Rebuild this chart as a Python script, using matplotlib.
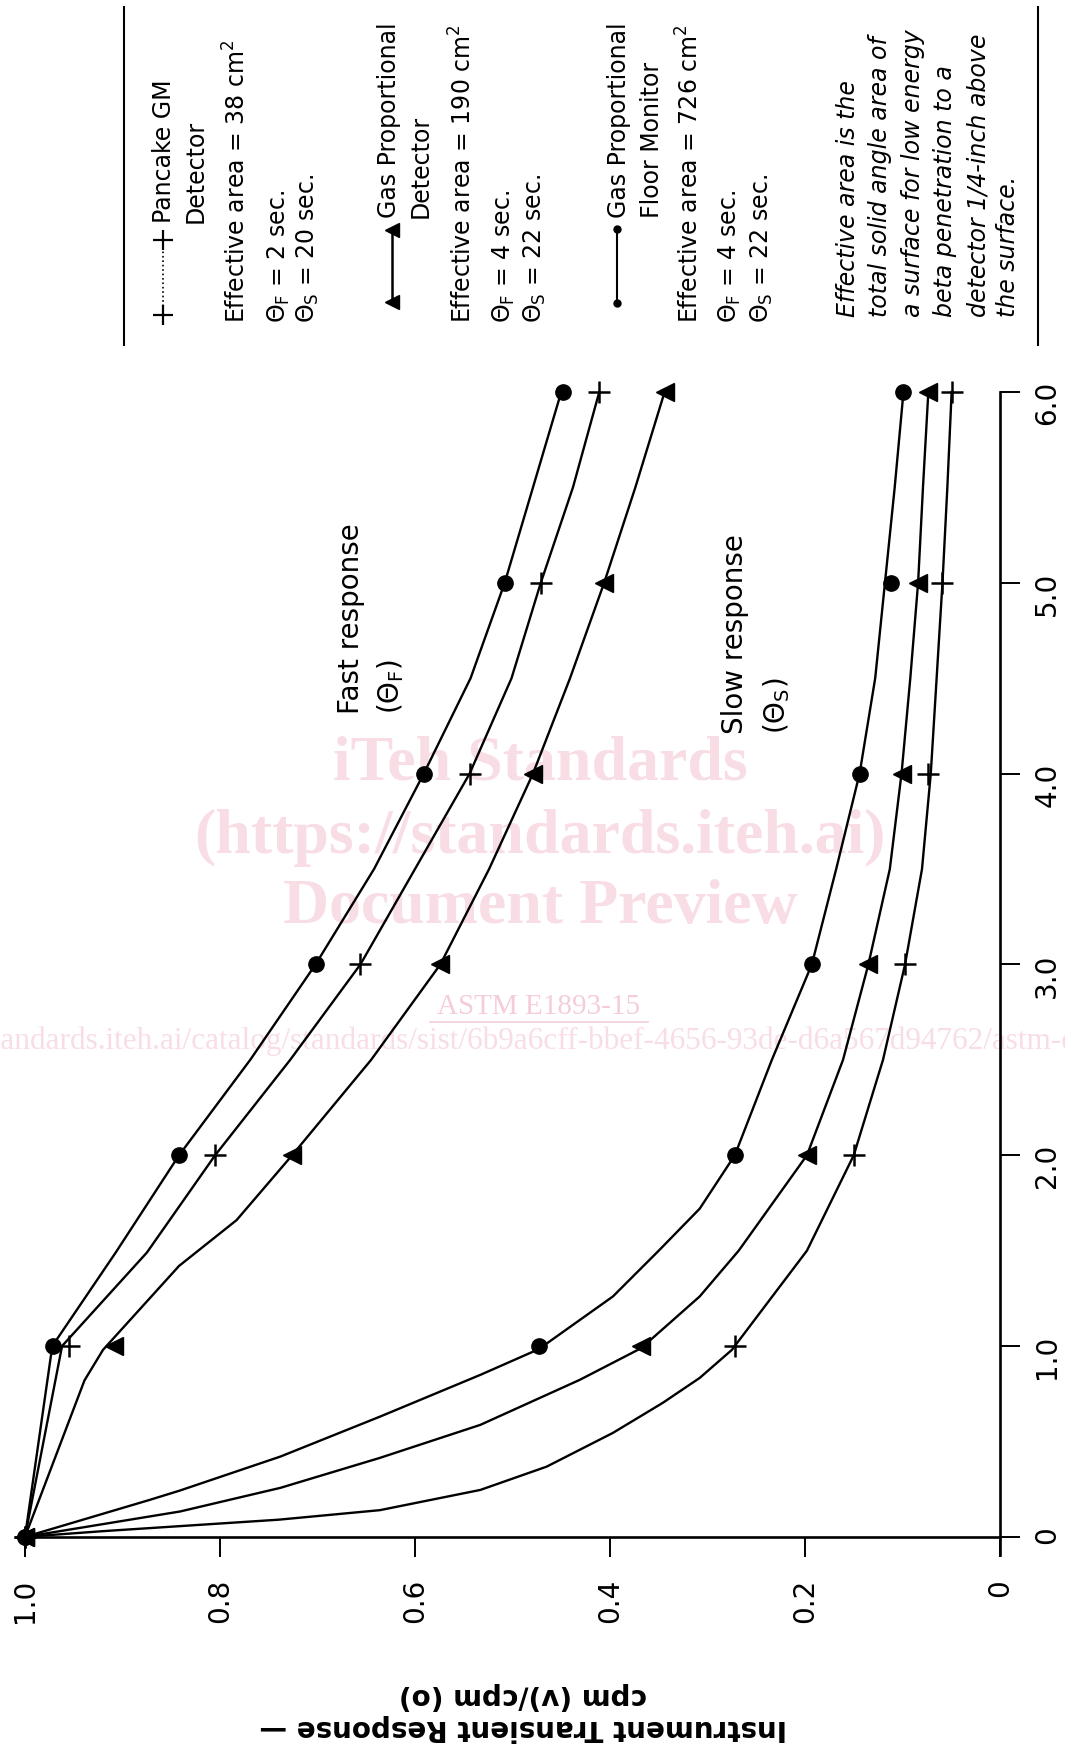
import matplotlib
matplotlib.use('Agg')
import matplotlib.pyplot as plt
from matplotlib.lines import Line2D

W, H = 1065, 1753

# marked points, time in seconds
marker_t = [0, 1, 2, 3, 4, 5, 6]

# fast response (theta F), cpm(v)/cpm(o)
fast_floor = [1.0, 0.971, 0.842, 0.702, 0.591, 0.508, 0.448]
fast_pancake = [1.0, 0.955, 0.805, 0.656, 0.544, 0.471, 0.411]
fast_gasprop = [1.0, 0.909, 0.726, 0.574, 0.479, 0.406, 0.344]

# slow response (theta S)
slow_floor = [1.0, 0.473, 0.272, 0.193, 0.144, 0.112, 0.099]
slow_gasprop = [1.0, 0.368, 0.198, 0.135, 0.101, 0.084, 0.0735]
slow_pancake = [1.0, 0.272, 0.150, 0.097, 0.0735, 0.059, 0.0496]

# traced curves (time, response)
fast_floor_ct = [0, 1.0, 1.49, 2.0, 2.5, 3.0, 3.5, 4.0, 4.5, 5.0, 5.5, 6.0]
fast_floor_cr = [1.0, 0.972, 0.907, 0.842, 0.769, 0.702, 0.642, 0.591, 0.543, 0.508, 0.479, 0.450]

fast_pancake_ct = [0, 1.0, 1.49, 2.0, 2.5, 3.0, 3.5, 4.0, 4.5, 5.0, 5.5, 6.0]
fast_pancake_cr = [1.0, 0.962, 0.875, 0.805, 0.728, 0.656, 0.600, 0.544, 0.501, 0.471, 0.438, 0.411]

fast_gasprop_ct = [0, 0.82, 0.98, 1.42, 1.66, 2.0, 2.5, 3.0, 3.5, 4.0, 4.5, 5.0, 5.5, 6.0]
fast_gasprop_cr = [1.0, 0.939, 0.920, 0.842, 0.783, 0.726, 0.645, 0.574, 0.524, 0.479, 0.441, 0.406, 0.374, 0.344]

slow_floor_ct = [0, 0.194, 0.243, 0.421, 0.63, 0.849, 0.984, 1.26, 1.5, 1.72, 2.0, 2.5, 3.0,
                 3.5, 4.0, 4.5, 5.0, 5.5, 6.0]
slow_floor_cr = [1.0, 0.872, 0.841, 0.738, 0.636, 0.533, 0.473, 0.397, 0.350, 0.308, 0.272, 0.234, 0.193,
                 0.168, 0.144, 0.128, 0.118, 0.108, 0.099]

slow_gasprop_ct = [0, 0.133, 0.257, 0.414, 0.587, 0.823, 0.989, 1.26, 1.5, 2.0, 2.5, 3.0,
                   3.5, 4.0, 4.5, 5.0, 5.5, 6.0]
slow_gasprop_cr = [1.0, 0.841, 0.738, 0.636, 0.533, 0.431, 0.368, 0.308, 0.268, 0.198, 0.161, 0.135,
                   0.113, 0.101, 0.092, 0.084, 0.079, 0.0735]

slow_pancake_ct = [0, 0.03, 0.06, 0.09, 0.14, 0.246, 0.368, 0.545, 0.702, 0.833, 0.98, 1.5, 2.0,
                   2.5, 3.0, 3.5, 4.0, 4.5, 5.0, 5.5, 6.0]
slow_pancake_cr = [1.0, 0.92, 0.83, 0.74, 0.636, 0.533, 0.465, 0.397, 0.346, 0.308, 0.275, 0.198, 0.150,
                   0.120, 0.0974, 0.080, 0.071, 0.065, 0.059, 0.054, 0.0496]

x_ticks = [1.0, 0.8, 0.6, 0.4, 0.2, 0.0]
x_ticklabels = ['1.0', '0.8', '0.6', '0.4', '0.2', '0']
y_ticks = [0, 1, 2, 3, 4, 5, 6]
y_ticklabels = ['0', '1.0', '2.0', '3.0', '4.0', '5.0', '6.0']

plt.rcParams['font.family'] = ['DejaVu Sans']
plt.rcParams['mathtext.fontset'] = 'dejavusans'


def fx(x):
    return x / W


def fy(y):
    return 1 - y / H


fig = plt.figure(figsize=(W / 100, H / 100), dpi=100)
ax = fig.add_axes([fx(25), fy(1555), 975 / W, (1555 - 392) / H])
ax.patch.set_visible(False)
ax.set_xlim(1.0, 0.0)
ax.set_ylim(-0.095, 6.0)

for s in ['left', 'top']:
    ax.spines[s].set_visible(False)
ax.spines['bottom'].set_position(('data', 0))
ax.spines['bottom'].set_linewidth(1.9)
ax.spines['right'].set_linewidth(1.9)
ax.yaxis.tick_right()

ax.set_xticks(x_ticks)
ax.set_xticklabels(x_ticklabels)
ax.set_yticks(y_ticks)
ax.set_yticklabels(y_ticklabels)
ax.tick_params(axis='x', direction='out', length=14.4, width=1.4, pad=16,
               labelrotation=90, labelsize=20)
ax.tick_params(axis='y', direction='out', length=14.4, width=1.4, pad=9.5,
               labelrotation=90, labelsize=20)

# curves
curves = [(fast_floor_cr, fast_floor_ct), (fast_pancake_cr, fast_pancake_ct),
          (fast_gasprop_cr, fast_gasprop_ct), (slow_floor_cr, slow_floor_ct),
          (slow_gasprop_cr, slow_gasprop_ct), (slow_pancake_cr, slow_pancake_ct)]
for cr, ct in curves:
    ax.plot(cr, ct, color='black', lw=1.7, solid_joinstyle='round', clip_on=False, zorder=3)

# markers
for vals in [fast_floor, slow_floor]:
    ax.plot(vals, marker_t, 'o', ms=11, color='black', clip_on=False, zorder=4)
for vals in [fast_gasprop, slow_gasprop]:
    ax.plot(vals, marker_t, '<', ms=13, color='black', clip_on=False, zorder=4)
for vals in [fast_pancake, slow_pancake]:
    ax.plot(vals, marker_t, '+', ms=16, mew=1.8, color='black', clip_on=False, zorder=4)


def vtext(x, y, s, size=17, style='normal'):
    fig.text(fx(x), fy(y), s, rotation=90, rotation_mode='anchor', ha='left',
             va='center', fontsize=size, style=style, color='black')


# curve group labels
vtext(351, 714, 'Fast response', size=20)
vtext(391, 714, r'($\Theta_\mathrm{F}$)', size=20)
vtext(735, 734, 'Slow response', size=20)
vtext(777, 734, r'($\Theta_\mathrm{S}$)', size=20)

# legend rules
for xr in [124, 1038]:
    fig.add_artist(Line2D([fx(xr), fx(xr)], [fy(7), fy(345)], lw=1.5, color='black',
                          transform=fig.transFigure))

# legend symbols
fig.add_artist(Line2D([fx(163), fx(163)], [fy(315), fy(240)], ls=':', lw=1.2, marker='+',
                      ms=14, mew=1.6, color='black', transform=fig.transFigure))
fig.add_artist(Line2D([fx(392), fx(392)], [fy(302), fy(230)], ls='-', lw=1.8, marker='<',
                      ms=10, color='black', transform=fig.transFigure))
fig.add_artist(Line2D([fx(617), fx(617)], [fy(303), fy(229)], ls='-', lw=1.5, marker='o',
                      ms=5, color='black', transform=fig.transFigure))

vtext(164, 223, 'Pancake GM')
vtext(196, 223, 'Detector')
vtext(237, 323, r'Effective area = 38 cm$^2$')
vtext(279, 323, r'$\Theta_\mathrm{F}$ = 2 sec.')
vtext(308, 323, r'$\Theta_\mathrm{S}$ = 20 sec.')

vtext(389, 218, 'Gas Proportional')
vtext(421, 218, 'Detector')
vtext(463, 323, r'Effective area = 190 cm$^2$')
vtext(504, 323, r'$\Theta_\mathrm{F}$ = 4 sec.')
vtext(535, 323, r'$\Theta_\mathrm{S}$ = 22 sec.')

vtext(619, 218, 'Gas Proportional')
vtext(652, 218, 'Floor Monitor')
vtext(690, 323, r'Effective area = 726 cm$^2$')
vtext(730, 323, r'$\Theta_\mathrm{F}$ = 4 sec.')
vtext(762, 323, r'$\Theta_\mathrm{S}$ = 22 sec.')

note = ['Effective area is the', 'total solid angle area of', 'a surface for low energy',
        'beta penetration to a', 'detector 1/4-inch above', 'the surface.']
for xn, line in zip([848, 880, 913, 945, 978, 1008], note):
    vtext(xn, 317, line, style='italic')

# axis title (upside down)
fig.text(fx(523), fy(1712), 'Instrument Transient Response \u2014\ncpm (v)/cpm (o)',
         rotation=180, rotation_mode='anchor', ha='center', va='center',
         multialignment='center', fontsize=20, fontweight='bold', linespacing=1.18)

# watermark
wm = '#f8dde5'
for yw, s in [(765, 'iTeh Standards'), (838, '(https://standards.iteh.ai)'),
              (908, 'Document Preview')]:
    fig.text(fx(540), fy(yw), s, ha='center', va='center', fontsize=46, fontweight='bold',
             family='Liberation Serif', color=wm, zorder=-1)
fig.text(fx(539), fy(1007), 'ASTM E1893-15', ha='center', va='center', fontsize=21,
         family='Liberation Serif', color='#f4cdd8', zorder=-1)
fig.add_artist(Line2D([fx(430), fx(648)], [fy(1022), fy(1022)], lw=1.2, color='#f4cdd8',
                      transform=fig.transFigure, zorder=-1))
fig.text(fx(537), fy(1041),
         'https://standards.iteh.ai/catalog/standards/sist/6b9a6cff-bbef-4656-93de-d6a567d94762/astm-e1893-15',
         ha='center', va='center', fontsize=22.5, family='Liberation Serif', color=wm, zorder=-1)

fig.savefig('out.png', dpi=100)
